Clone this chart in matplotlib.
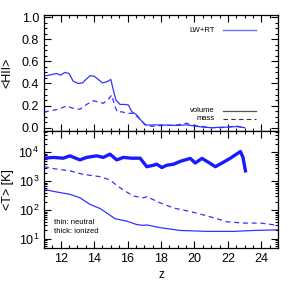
import matplotlib
matplotlib.use('agg')
import matplotlib.pyplot as plt
from matplotlib.ticker import MultipleLocator, LogLocator, NullFormatter

plt.rcParams['font.family'] = ['Liberation Sans', 'DejaVu Sans']
plt.rcParams['mathtext.default'] = 'regular'

# ionized fraction <HII> vs redshift
z_vol = [11.0, 11.45, 11.75, 12.0, 12.25, 12.5, 12.75, 13.05, 13.3, 13.75, 14.0, 14.25, 14.5,
         14.75, 15.0, 15.15, 15.3, 15.55, 15.85, 16.05, 16.25, 16.55, 16.75, 17.05, 17.35,
         17.85, 18.5, 19.0, 19.5, 20.0, 20.5, 21.0, 21.5, 22.0, 22.5, 23.0]
hii_vol = [0.465, 0.48, 0.49, 0.475, 0.50, 0.49, 0.42, 0.40, 0.405, 0.47, 0.466, 0.436, 0.405,
           0.414, 0.436, 0.34, 0.25, 0.21, 0.21, 0.205, 0.145, 0.115, 0.076, 0.024, 0.024,
           0.025, 0.022, 0.02, 0.025, 0.015, 0.005, 0.0, 0.003, 0.005, 0.01, 0.0]
z_mass = [11.0, 11.35, 11.85, 12.35, 12.75, 13.15, 13.55, 13.95, 14.25, 14.55, 14.85, 15.05,
          15.25, 15.4, 15.65, 15.95, 16.35, 16.75, 17.15, 17.55, 18.0, 18.5, 19.0, 19.5,
          20.0, 20.5, 21.0, 21.5, 22.0, 22.5, 23.0]
hii_mass = [0.139, 0.153, 0.166, 0.196, 0.175, 0.166, 0.21, 0.243, 0.234, 0.22, 0.256, 0.295,
            0.19, 0.139, 0.144, 0.13, 0.13, 0.076, 0.015, 0.012, 0.02, 0.02, 0.025, 0.04,
            0.02, 0.01, 0.0, 0.0, 0.005, 0.015, 0.0]

# temperatures
z_ion = [11.0, 11.55, 12.15, 12.55, 13.15, 13.55, 14.15, 14.55, 14.95, 15.35, 15.75, 16.25,
         16.75, 17.15, 17.55, 17.75, 18.05, 18.35, 18.75, 19.15, 19.75, 20.05, 20.45, 20.85,
         21.25, 21.65, 22.15, 22.75, 22.9, 23.05]
t_ion = [6300, 6700, 6300, 7600, 5500, 6700, 7600, 6700, 8700, 5500, 6700, 6300,
         6300, 3200, 3600, 3900, 3000, 3600, 3900, 4900, 6200, 4300, 6200, 4500,
         3200, 4300, 6300, 10700, 6800, 2300]
z_neu_mass = [11.0, 11.65, 12.55, 13.35, 14.35, 14.95, 15.35, 15.75, 16.35, 16.95, 17.15,
              17.95, 18.75, 19.95, 21.15, 21.95, 22.95, 23.95, 25.0]
t_neu_mass = [3200, 2700, 2300, 1740, 1450, 1120, 720, 500, 310, 270, 295,
              180, 120, 85, 55, 40, 36, 36, 30]
z_neu_vol = [11.0, 11.65, 12.55, 13.15, 13.75, 14.35, 14.75, 15.25, 15.95, 16.55, 16.95,
             17.15, 17.95, 19.15, 20.75, 22.35, 23.55, 25.0]
t_neu_vol = [525, 440, 355, 270, 160, 115, 81, 51, 42, 32, 30,
             31, 25, 20, 18.6, 18.6, 20, 21]

blue = '#1a1aff'
thin_blue = '#3333ff'

fig = plt.figure(figsize=(2.93, 2.93), dpi=100)
ax1 = fig.add_axes([0.150, 0.553, 0.799, 0.396])
ax2 = fig.add_axes([0.150, 0.154, 0.799, 0.399], sharex=ax1)

ax1.plot(z_vol, hii_vol, color=thin_blue, lw=0.9)
ax1.plot(z_mass, hii_mass, color=thin_blue, lw=0.9, ls=(0, (4, 3)))
ax1.set_ylim(-0.03, 1.02)
ax1.set_xlim(11, 25)
ax1.yaxis.set_major_locator(MultipleLocator(0.2))
ax1.yaxis.set_minor_locator(MultipleLocator(0.05))
ax1.set_ylabel('<HII>', fontsize=9)
ax1.yaxis.set_label_coords(-0.13, 0.5)
plt.setp(ax1.get_xticklabels(), visible=False)

# legend drawn by hand like the original
ax1.text(0.73, 0.87, 'LW+RT', transform=ax1.transAxes, fontsize=5.5, ha='right', va='center')
ax1.plot([0.765, 0.905], [0.87, 0.87], transform=ax1.transAxes, color='#7070ff', lw=1)
ax1.text(0.73, 0.175, 'volume', transform=ax1.transAxes, fontsize=5.5, ha='right', va='center')
ax1.plot([0.765, 0.905], [0.175, 0.175], transform=ax1.transAxes, color='#555555', lw=0.9)
ax1.text(0.73, 0.105, 'mass', transform=ax1.transAxes, fontsize=5.5, ha='right', va='center')
ax1.plot([0.765, 0.905], [0.105, 0.105], transform=ax1.transAxes, color='#333333', lw=0.8,
         ls=(0, (4, 3)))

ax2.plot(z_ion, t_ion, color=blue, lw=2.4)
ax2.plot(z_neu_mass, t_neu_mass, color=thin_blue, lw=0.9, ls=(0, (4, 3)))
ax2.plot(z_neu_vol, t_neu_vol, color=thin_blue, lw=0.9)
ax2.set_yscale('log')
ax2.set_ylim(5, 5.5e4)
ax2.yaxis.set_major_locator(LogLocator(base=10))
ax2.yaxis.set_minor_locator(LogLocator(base=10, subs=range(2, 10)))
ax2.yaxis.set_minor_formatter(NullFormatter())
ax2.xaxis.set_major_locator(MultipleLocator(2))
ax2.xaxis.set_minor_locator(MultipleLocator(0.5))
ax2.set_ylabel('<T> [K]', fontsize=9)
ax2.yaxis.set_label_coords(-0.13, 0.5)
ax2.set_xlabel('z', fontsize=8.5, labelpad=3)
ax2.text(0.045, 0.20, 'thin: neutral', transform=ax2.transAxes, fontsize=5.5)
ax2.text(0.045, 0.13, 'thick: ionized', transform=ax2.transAxes, fontsize=5.5)

for ax in (ax1, ax2):
    ax.tick_params(which='both', direction='in', top=True, right=True, labelsize=9, width=0.8)
    ax.tick_params(which='major', length=5)
    ax.tick_params(which='minor', length=2.5)
    for s in ax.spines.values():
        s.set_linewidth(0.9)
ax1.xaxis.set_major_locator(MultipleLocator(2))
ax1.xaxis.set_minor_locator(MultipleLocator(0.5))

fig.savefig('out.png', dpi=100)
